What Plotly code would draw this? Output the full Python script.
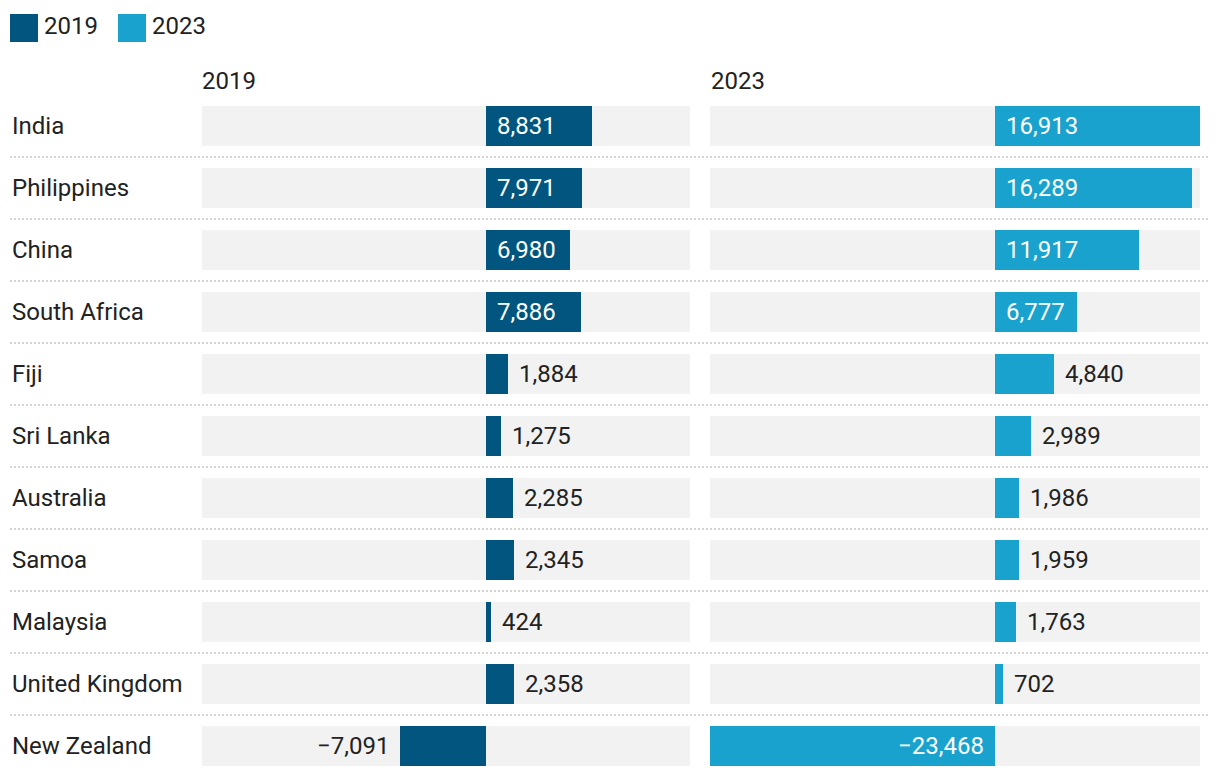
import plotly.graph_objects as go

countries = ["India", "Philippines", "China", "South Africa", "Fiji", "Sri Lanka",
             "Australia", "Samoa", "Malaysia", "United Kingdom", "New Zealand"]
values_2019 = [8831, 7971, 6980, 7886, 1884, 1275, 2285, 2345, 424, 2358, -7091]
values_2023 = [16913, 16289, 11917, 6777, 4840, 2989, 1986, 1959, 1763, 702, -23468]
series_names = ["2019", "2023"]
colors = ["#01557e", "#19a2cd"]

# page body has an 8px margin; figure is drawn offset by it
OX, OY = 8, 8
W, H = 1212, 770
FONT = "Roboto"
FS = 24
TXT = "#222222"


def px(xr):
    return (xr - OX) / W


def py(yr):
    return 1 - (yr - OY) / H


allv = values_2019 + values_2023
xmin, xmax = min(allv), max(allv)

fig = go.Figure()
xaxes = ["x", "x2"]
series = [values_2019, values_2023]
n = len(countries)
BW = 40 / 62


def fmt(v):
    return f"{v:,}".replace("-", "\u2212")


annotations = []
px_per_unit = 488 / (xmax - xmin)

for k, (vals, xa) in enumerate(zip(series, xaxes)):
    fig.add_trace(go.Bar(
        y=countries, x=[xmax - xmin] * n, base=[xmin] * n, orientation="h",
        marker=dict(color="#f2f2f2", line=dict(width=0)), width=BW,
        xaxis=xa, yaxis="y", hoverinfo="skip", showlegend=False))
    fig.add_trace(go.Bar(
        y=countries, x=vals, orientation="h", name=series_names[k],
        marker=dict(color=colors[k], line=dict(width=0)), width=BW,
        xaxis=xa, yaxis="y", showlegend=False))
    for c, v in zip(countries, vals):
        t = fmt(v)
        tw = len(t) * 11 + 20
        inside = abs(v) * px_per_unit > tw
        if inside:
            if v >= 0:
                a = dict(x=0, xanchor="left", xshift=9, font_color="white")
            else:
                a = dict(x=0, xanchor="right", xshift=-9, font_color="white")
        else:
            if v >= 0:
                a = dict(x=v, xanchor="left", xshift=9, font_color=TXT)
            else:
                a = dict(x=v, xanchor="right", xshift=-9, font_color=TXT)
        annotations.append(dict(
            text=t, xref=xa, yref="y", y=c, showarrow=False, yanchor="middle",
            x=a["x"], xanchor=a["xanchor"], xshift=a["xshift"],
            font=dict(family=FONT, size=FS, color=a["font_color"])))

# Category labels
for c in countries:
    annotations.append(dict(text=c, xref="paper", yref="y", x=px(10), y=c,
                            xanchor="left", yanchor="middle", showarrow=False,
                            font=dict(family=FONT, size=FS, color=TXT)))

# Column headers
for name, xp in zip(series_names, [200, 709]):
    annotations.append(dict(text=name, xref="paper", yref="paper", x=px(xp),
                            y=py(81), xanchor="left", yanchor="middle",
                            showarrow=False, font=dict(family=FONT, size=FS, color=TXT)))

shapes = []
# Legend
for name, col, sx in zip(series_names, colors, [10, 118]):
    shapes.append(dict(type="rect", xref="paper", yref="paper",
                       x0=px(sx), x1=px(sx + 28), y0=py(42), y1=py(14),
                       fillcolor=col, line=dict(width=0)))
    annotations.append(dict(text=name, xref="paper", yref="paper", x=px(sx + 32),
                            y=py(26), xanchor="left", yanchor="middle",
                            showarrow=False, font=dict(family=FONT, size=FS, color=TXT)))

# Row separators
for i in range(n - 1):
    shapes.append(dict(type="line", xref="paper", yref="y", x0=px(10), x1=px(1208),
                       y0=i + 0.5, y1=i + 0.5,
                       line=dict(color="#d4d4d4", width=2, dash="2px,2px")))

axis_common = dict(range=[xmin, xmax], showgrid=False, zeroline=False,
                   showticklabels=False, showline=False, fixedrange=True)
fig.update_layout(
    width=W, height=H,
    margin=dict(l=0, r=0, t=0, b=0),
    paper_bgcolor="white", plot_bgcolor="white",
    barmode="overlay", bargap=0,
    showlegend=False,
    xaxis=dict(domain=[px(202), px(690)], anchor="y", **axis_common),
    xaxis2=dict(domain=[px(710), px(1200)], anchor="y", **axis_common),
    yaxis=dict(domain=[py(777), py(95)], type="category",
               categoryorder="array", categoryarray=countries,
               range=[n - 0.5, -0.5], showgrid=False, zeroline=False,
               showticklabels=False, showline=False, fixedrange=True),
    annotations=annotations,
    shapes=shapes,
    font=dict(family=FONT, size=FS, color=TXT),
)

fig.write_html("out.html", config={"displayModeBar": False})
